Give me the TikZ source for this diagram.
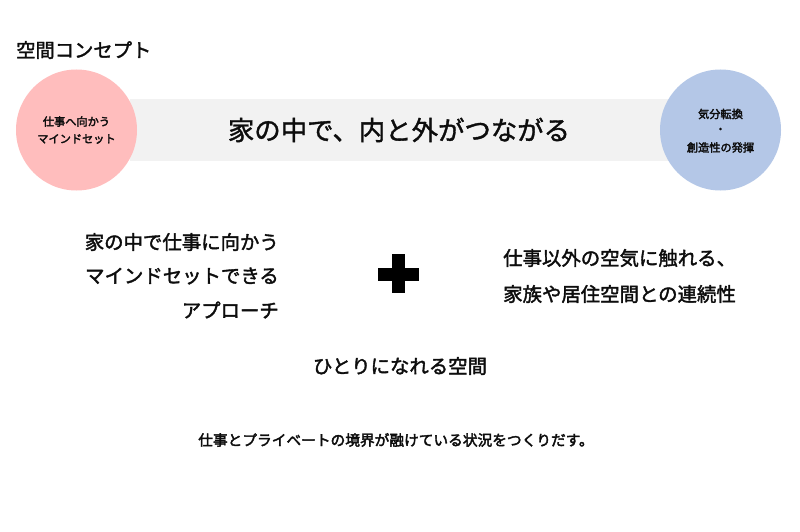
\documentclass[tikz,border=0pt]{standalone}
\usepackage{fontspec}
\newfontfamily\jp{Noto Sans CJK JP}[FakeBold=1.4]
\newfontfamily\jpm{Noto Sans CJK JP}[FakeBold=1.9]
\newfontfamily\jpb{Noto Sans CJK JP}[FakeBold=2.6]
\definecolor{pinkc}{HTML}{FFBDBD}
\definecolor{bluec}{HTML}{B4C7E7}
\definecolor{bandc}{HTML}{F2F2F2}
\definecolor{inkc}{HTML}{0D0D0D}
\begin{document}
\begin{tikzpicture}[x=1pt,y=-1pt,
  txt/.style={inner sep=0pt,text=inkc},
  circ/.style={circle,minimum size=121pt,inner sep=0pt,draw=none},
  small/.style={txt,font=\jpb\fontsize{11.2}{13}\selectfont},
  mid/.style={txt,font=\jpm\fontsize{19.4}{24}\selectfont}]
\useasboundingbox (0,0) rectangle (800,532);
\fill[white] (0,0) rectangle (800,532);
% band
\node[fill=bandc,minimum width=540pt,minimum height=61pt,inner sep=0pt] (band) at (400,130) {};
\node[circ,fill=pinkc] (pink) at (76.5,130) {};
\node[circ,fill=bluec] (blue) at (720.5,130) {};
\node[txt,font=\jpm\fontsize{19.3}{22}\selectfont,anchor=west] (title) at (16,50) {空間コンセプト};
\node[txt,font=\jp\fontsize{26.4}{30}\selectfont] (main) at (399,130) {家の中で、内と外がつながる};
\node[small] (p1) at (76.5,121.5) {仕事へ向かう};
\node[small] (p2) at (76.5,139) {マインドセット};
\node[small] (b1) at (720.5,114) {気分転換};
\node[small] (b2) at (720.5,130.5) {・};
\node[small] (b3) at (720.5,147.5) {創造性の発揮};
% left block
\node[mid,anchor=east] (l1) at (279,242) {家の中で仕事に向かう};
\node[mid,anchor=east] (l2) at (279,276) {マインドセットできる};
\node[mid,anchor=east] (l3) at (279,310) {アプローチ};
% plus
\fill[black] (391.8,254) rectangle (405,293);
\fill[black] (378,267.5) rectangle (418.5,280.5);
\coordinate (plus) at (398,273.5);
% right block
\node[mid,anchor=west] (r1) at (503,258) {仕事以外の空気に触れる、};
\node[mid,anchor=west] (r2) at (503,294) {家族や居住空間との連続性};
\node[mid] (alone) at (400,366) {ひとりになれる空間};
\node[txt,font=\jpb\fontsize{14.7}{17}\selectfont] (bottom) at (396,440) {仕事とプライベートの境界が融けている状況をつくりだす。};
\end{tikzpicture}
\end{document}
